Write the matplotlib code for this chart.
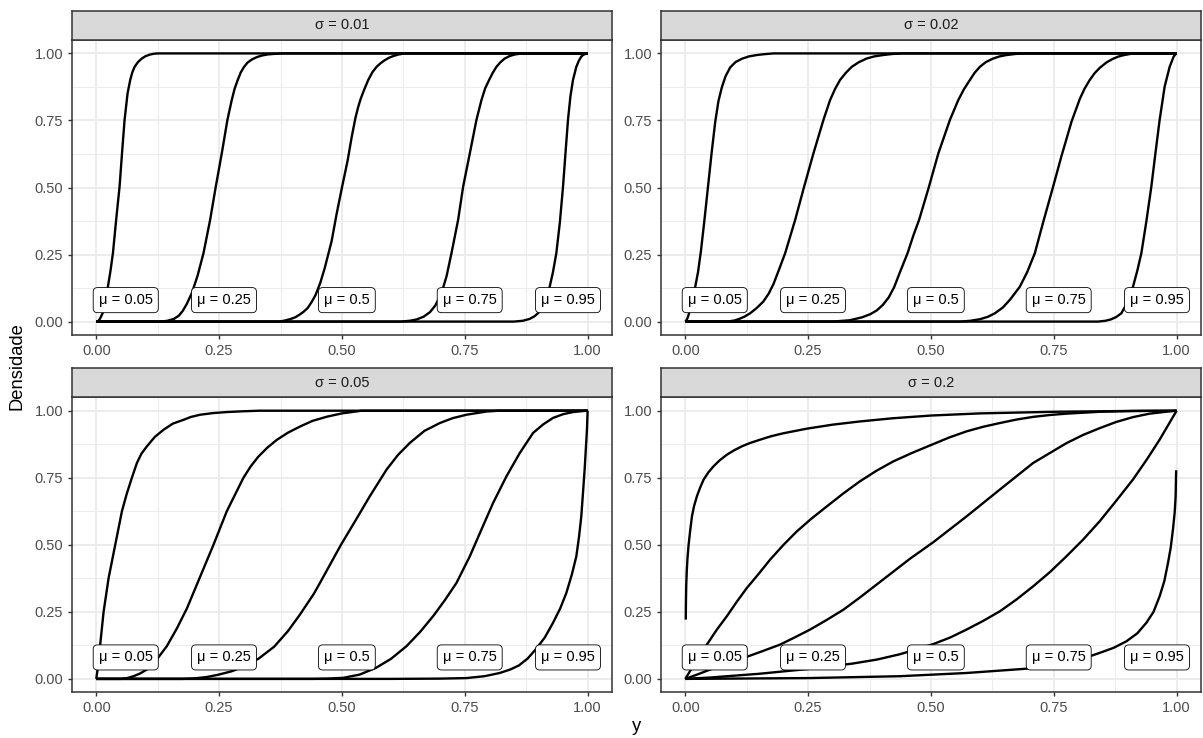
import matplotlib
matplotlib.use("Agg")
import matplotlib.pyplot as plt

plt.rcParams['font.family'] = ['Liberation Sans', 'DejaVu Sans']

# ---------------------------------------------------------------- data
sigma_labels = ["0.01", "0.02", "0.05", "0.2"]
mu_labels = ["0.05", "0.25", "0.5", "0.75", "0.95"]
mu_values = [0.05, 0.25, 0.5, 0.75, 0.95]

# sigma = 0.01
s001_m005_x = [0, 0.003, 0.006, 0.009, 0.0129, 0.017, 0.0205, 0.0237, 0.029, 0.0339, 0.0405, 0.0474, 0.0525, 0.0576,
               0.0637, 0.0691, 0.0735, 0.078, 0.085, 0.0928, 0.1005, 0.1098, 0.118, 0.127, 1.0]
s001_m005_y = [0, 0.001, 0.006, 0.016, 0.031, 0.06, 0.095, 0.13, 0.19, 0.255, 0.38, 0.503, 0.63, 0.752,
               0.851, 0.901, 0.93, 0.95, 0.968, 0.981, 0.99, 0.996, 0.999, 1.0, 1.0]
s001_m025_x = [0, 0.13, 0.145, 0.158, 0.168, 0.176, 0.184, 0.1944, 0.206, 0.2182, 0.2317, 0.2432, 0.2554, 0.2669,
               0.272, 0.2757, 0.2815, 0.2879, 0.294, 0.3008, 0.308, 0.3164, 0.3265, 0.3367, 0.348, 0.3604, 0.381, 1.0]
s001_m025_y = [0, 0.0, 0.003, 0.01, 0.022, 0.04, 0.065, 0.106, 0.17, 0.255, 0.379, 0.503, 0.627, 0.752,
               0.795, 0.826, 0.868, 0.901, 0.929, 0.95, 0.966, 0.977, 0.986, 0.992, 0.996, 0.998, 1.0, 1.0]
s001_m050_x = [0, 0.372, 0.384, 0.396, 0.405, 0.413, 0.4215, 0.43, 0.438, 0.4465, 0.456, 0.465, 0.479, 0.489, 0.5,
               0.5115, 0.52, 0.5275, 0.533, 0.538, 0.5455, 0.5535, 0.562, 0.5705, 0.579, 0.5874, 0.596, 0.6043,
               0.615, 0.628, 1.0]
s001_m050_y = [0, 0.0, 0.004, 0.01, 0.016, 0.025, 0.036, 0.05, 0.072, 0.1, 0.145, 0.2, 0.3, 0.4, 0.5,
               0.6, 0.69, 0.76, 0.8, 0.83, 0.866, 0.901, 0.93, 0.95, 0.964, 0.975, 0.984, 0.99,
               0.996, 1.0, 1.0]
s001_m075_x = [0, 0.62, 0.638, 0.652, 0.666, 0.679, 0.69, 0.7026, 0.713, 0.7229, 0.7364, 0.7466, 0.7602, 0.7737,
               0.7839, 0.7915, 0.7995, 0.807, 0.8144, 0.8225, 0.8313, 0.841, 0.8516, 0.863, 0.8753, 1.0]
s001_m075_y = [0, 0.0, 0.003, 0.008, 0.018, 0.035, 0.06, 0.106, 0.17, 0.255, 0.379, 0.503, 0.627, 0.752,
               0.826, 0.87, 0.901, 0.928, 0.95, 0.967, 0.981, 0.99, 0.996, 0.999, 1.0, 1.0]
s001_m095_x = [0, 0.85, 0.868, 0.882, 0.892, 0.899, 0.906, 0.914, 0.9228, 0.9295, 0.9363, 0.9435, 0.9499, 0.955,
               0.96, 0.965, 0.9702, 0.977, 0.982, 0.987, 0.9905, 0.994, 0.997, 1.0]
s001_m095_y = [0, 0.0, 0.003, 0.01, 0.02, 0.031, 0.048, 0.08, 0.13, 0.185, 0.255, 0.37, 0.503, 0.63,
               0.752, 0.84, 0.901, 0.95, 0.972, 0.988, 0.994, 0.997, 0.999, 1.0]

# sigma = 0.02
s002_m005_x = [0, 0.0025, 0.005, 0.01, 0.015, 0.0203, 0.026, 0.0318, 0.0385, 0.0461, 0.0535, 0.061, 0.0675, 0.0745,
               0.082, 0.0915, 0.1025, 0.1152, 0.13, 0.1457, 0.16, 0.1795, 1.0]
s002_m005_y = [0, 0.005, 0.015, 0.045, 0.085, 0.13, 0.185, 0.262, 0.37, 0.5, 0.627, 0.745, 0.822, 0.874,
               0.915, 0.948, 0.968, 0.98, 0.989, 0.994, 0.997, 1.0, 1.0]
s002_m025_x = [0, 0.085, 0.1, 0.11, 0.121, 0.132, 0.145, 0.159, 0.17, 0.1795, 0.19, 0.2033, 0.2236, 0.2419, 0.2608,
               0.2812, 0.2947, 0.305, 0.315, 0.327, 0.3388, 0.353, 0.3692, 0.385, 0.4031, 0.422, 0.4438, 1.0]
s002_m025_y = [0, 0.0, 0.004, 0.01, 0.019, 0.031, 0.05, 0.075, 0.105, 0.14, 0.19, 0.255, 0.379, 0.503, 0.627,
               0.752, 0.826, 0.868, 0.901, 0.928, 0.95, 0.967, 0.981, 0.989, 0.994, 0.998, 1.0, 1.0]
s002_m050_x = [0, 0.30, 0.335, 0.36, 0.377, 0.39, 0.402, 0.414, 0.425, 0.436, 0.4524, 0.464, 0.476, 0.4955, 0.515,
               0.5386, 0.5556, 0.567, 0.5793, 0.589, 0.5996, 0.612, 0.6267, 0.64, 0.6538, 0.672, 0.6945, 1.0]
s002_m050_y = [0, 0.0, 0.005, 0.016, 0.028, 0.042, 0.062, 0.09, 0.128, 0.18, 0.255, 0.32, 0.38, 0.5, 0.627,
               0.752, 0.826, 0.866, 0.901, 0.928, 0.95, 0.968, 0.981, 0.989, 0.994, 0.998, 1.0, 1.0]
s002_m075_x = [0, 0.559, 0.58, 0.6, 0.616, 0.6301, 0.646, 0.6606, 0.6809, 0.696, 0.7114, 0.7283, 0.7486, 0.7656,
               0.786, 0.8029, 0.8125, 0.8232, 0.833, 0.8435, 0.857, 0.8706, 0.881, 0.891, 0.9112, 1.0]
s002_m075_y = [0, 0.0, 0.003, 0.009, 0.018, 0.031, 0.052, 0.081, 0.13, 0.185, 0.255, 0.37, 0.503, 0.617,
               0.745, 0.83, 0.868, 0.901, 0.926, 0.946, 0.966, 0.98, 0.988, 0.993, 1.0, 1.0]
s002_m095_x = [0, 0.84, 0.855, 0.866, 0.877, 0.8875, 0.8995, 0.9112, 0.92, 0.9282, 0.9385, 0.9485, 0.957, 0.9654,
               0.9756, 0.9858, 0.9939, 0.998, 1.0]
s002_m095_y = [0, 0.0, 0.003, 0.008, 0.017, 0.031, 0.07, 0.13, 0.19, 0.255, 0.375, 0.503, 0.63, 0.752,
               0.876, 0.95, 0.988, 0.998, 1.0]

# sigma = 0.05
s005_m005_x = [0, 0.003, 0.008, 0.0149, 0.0251, 0.0386, 0.0522, 0.062, 0.0725, 0.0827, 0.092, 0.103, 0.119, 0.1369,
               0.156, 0.1775, 0.193, 0.2114, 0.237, 0.2656, 0.3, 0.333, 1.0]
s005_m005_y = [0, 0.04, 0.128, 0.25, 0.376, 0.5, 0.625, 0.69, 0.75, 0.805, 0.84, 0.867, 0.902, 0.929,
               0.952, 0.966, 0.977, 0.985, 0.991, 0.995, 0.998, 1.0, 1.0]
s005_m025_x = [0, 0.05, 0.063, 0.0759, 0.089, 0.103, 0.123, 0.1436, 0.164, 0.1843, 0.2114, 0.2385, 0.2656, 0.2995,
               0.3145, 0.33, 0.348, 0.3672, 0.39, 0.4146, 0.44, 0.47, 0.5, 0.54, 1.0]
s005_m025_y = [0, 0.0, 0.003, 0.01, 0.02, 0.035, 0.072, 0.122, 0.188, 0.262, 0.381, 0.5, 0.625, 0.75,
               0.793, 0.829, 0.862, 0.891, 0.918, 0.941, 0.962, 0.978, 0.99, 1.0, 1.0]
s005_m050_x = [0, 0.175, 0.2, 0.225, 0.247, 0.275, 0.301, 0.33, 0.362, 0.39, 0.4146, 0.443, 0.4553, 0.498, 0.528,
               0.557, 0.591, 0.614, 0.6382, 0.668, 0.6992, 0.725, 0.7534, 0.794, 0.82, 1.0]
s005_m050_y = [0, 0.0, 0.002, 0.007, 0.015, 0.028, 0.046, 0.075, 0.12, 0.178, 0.24, 0.318, 0.358, 0.5, 0.592,
               0.682, 0.781, 0.835, 0.88, 0.925, 0.954, 0.972, 0.985, 0.997, 1.0, 1.0]
s005_m075_x = [0, 0.44, 0.47, 0.5027, 0.536, 0.5691, 0.6, 0.6314, 0.659, 0.6856, 0.71, 0.7331, 0.7602, 0.7839,
               0.8076, 0.8347, 0.8618, 0.8889, 0.9095, 0.9295, 0.95, 0.9702, 0.9973, 1.0]
s005_m075_y = [0, 0.0, 0.001, 0.004, 0.016, 0.041, 0.075, 0.122, 0.175, 0.234, 0.295, 0.358, 0.457, 0.557,
               0.656, 0.755, 0.842, 0.917, 0.949, 0.973, 0.987, 0.995, 1.0, 1.0]
s005_m095_x = [0, 0.6, 0.7, 0.753, 0.79, 0.8211, 0.8425, 0.86, 0.878, 0.8943, 0.913, 0.9295, 0.944, 0.9566, 0.968,
               0.977, 0.9825, 0.9871, 0.9939, 0.9986, 1.0]
s005_m095_y = [0, 0.0, 0.001, 0.003, 0.01, 0.022, 0.035, 0.05, 0.076, 0.11, 0.155, 0.209, 0.262, 0.32, 0.39,
               0.457, 0.53, 0.606, 0.78, 0.929, 1.0]

# sigma = 0.2
s02_m005_x = [0.001, 0.0012, 0.0015, 0.002, 0.003, 0.0045, 0.0068, 0.0098, 0.0136, 0.018, 0.0237, 0.03, 0.0373,
              0.047, 0.0576, 0.07, 0.0847, 0.1, 0.115, 0.1324, 0.1524, 0.175, 0.2, 0.2473, 0.3, 0.3557, 0.4234,
              0.5, 0.6, 0.75, 0.9, 1.0]
s02_m005_y = [0.221, 0.26, 0.3, 0.35, 0.4, 0.45, 0.5, 0.55, 0.606, 0.645, 0.681, 0.712, 0.743,
              0.77, 0.793, 0.815, 0.836, 0.853, 0.867, 0.88, 0.892, 0.905, 0.916, 0.933, 0.948, 0.96, 0.972,
              0.982, 0.99, 0.996, 0.999, 1.0]
s02_m025_x = [0, 0.01, 0.02, 0.03, 0.044, 0.064, 0.0847, 0.105, 0.1253, 0.15, 0.1728, 0.2, 0.227, 0.257, 0.288,
              0.322, 0.3557, 0.389, 0.4234, 0.462, 0.5014, 0.537, 0.5725, 0.606, 0.6402, 0.674, 0.7079, 0.742,
              0.7757, 0.8435, 0.911, 1.0]
s02_m025_y = [0, 0.03, 0.06, 0.09, 0.128, 0.183, 0.234, 0.288, 0.339, 0.393, 0.445, 0.5, 0.55, 0.598, 0.643,
              0.692, 0.737, 0.776, 0.811, 0.843, 0.873, 0.9, 0.923, 0.94, 0.954, 0.967, 0.977, 0.984,
              0.989, 0.996, 0.999, 1.0]
s02_m050_x = [0, 0.0254, 0.0508, 0.085, 0.1186, 0.155, 0.1931, 0.222, 0.2541, 0.288, 0.3218, 0.355, 0.3896, 0.4573,
              0.505, 0.5725, 0.6402, 0.7079, 0.7757, 0.81, 0.8435, 0.877, 0.911, 0.945, 0.9783, 1.0]
s02_m050_y = [0, 0.017, 0.035, 0.056, 0.078, 0.102, 0.128, 0.154, 0.184, 0.22, 0.258, 0.303, 0.352, 0.448,
              0.51, 0.606, 0.706, 0.805, 0.879, 0.91, 0.935, 0.958, 0.976, 0.989, 0.996, 1.0]
s02_m075_x = [0, 0.05, 0.1, 0.15, 0.2, 0.245, 0.288, 0.34, 0.39, 0.437, 0.47, 0.505, 0.54, 0.5725, 0.606, 0.6402,
              0.674, 0.7079, 0.742, 0.7757, 0.81, 0.8435, 0.877, 0.911, 0.94, 0.9654, 1.0]
s02_m075_y = [0, 0.005, 0.012, 0.019, 0.028, 0.036, 0.045, 0.057, 0.072, 0.092, 0.11, 0.13, 0.155, 0.184, 0.216,
              0.252, 0.296, 0.345, 0.398, 0.457, 0.52, 0.588, 0.664, 0.743, 0.82, 0.892, 1.0]
s02_m095_x = [0, 0.25, 0.437, 0.5725, 0.6944, 0.74, 0.7757, 0.81, 0.8435, 0.872, 0.8977, 0.92, 0.9383, 0.953,
              0.9654, 0.975, 0.9824, 0.988, 0.9925, 0.996, 0.998, 0.999]
s02_m095_y = [0, 0.003, 0.01, 0.022, 0.038, 0.048, 0.06, 0.076, 0.097, 0.116, 0.14, 0.17, 0.209, 0.25,
              0.308, 0.365, 0.432, 0.49, 0.557, 0.62, 0.681, 0.778]

panels = [
    [(s001_m005_x, s001_m005_y), (s001_m025_x, s001_m025_y), (s001_m050_x, s001_m050_y),
     (s001_m075_x, s001_m075_y), (s001_m095_x, s001_m095_y)],
    [(s002_m005_x, s002_m005_y), (s002_m025_x, s002_m025_y), (s002_m050_x, s002_m050_y),
     (s002_m075_x, s002_m075_y), (s002_m095_x, s002_m095_y)],
    [(s005_m005_x, s005_m005_y), (s005_m025_x, s005_m025_y), (s005_m050_x, s005_m050_y),
     (s005_m075_x, s005_m075_y), (s005_m095_x, s005_m095_y)],
    [(s02_m005_x, s02_m005_y), (s02_m025_x, s02_m025_y), (s02_m050_x, s02_m050_y),
     (s02_m075_x, s02_m075_y), (s02_m095_x, s02_m095_y)],
]

tick_values = [0.0, 0.25, 0.5, 0.75, 1.0]
minor_values = [0.125, 0.375, 0.625, 0.875]

# ---------------------------------------------------------------- layout (pixels)
W, H = 1203, 738
fig = plt.figure(figsize=(W / 100, H / 100), dpi=100)


def rect(left, top, width, height):
    return [left / W, 1 - (top + height) / H, width / W, height / H]


col_left = [71.7, 660.7]
panel_w = 540.5
row_top = [40.0, 397.3]
panel_h = 295.0
strip_h = 29.5

border_col = "#333333"
grid_col = "#EBEBEB"

for k, curves in enumerate(panels):
    r, c = divmod(k, 2)
    ax = fig.add_axes(rect(col_left[c], row_top[r], panel_w, panel_h))
    ax.set_xlim(-0.05, 1.05)
    ax.set_ylim(-0.05, 1.05)
    ax.set_xticks(tick_values)
    ax.set_yticks(tick_values)
    ax.set_xticks(minor_values, minor=True)
    ax.set_yticks(minor_values, minor=True)
    ax.set_xticklabels([f"{v:.2f}" for v in tick_values])
    ax.set_yticklabels([f"{v:.2f}" for v in tick_values])
    ax.grid(which="major", color=grid_col, lw=1.3)
    ax.grid(which="minor", color=grid_col, lw=0.65)
    ax.set_axisbelow(True)
    ax.tick_params(which="major", length=3.0, width=1.0, color=border_col,
                   labelsize=10.5, labelcolor="#4D4D4D", pad=3.2)
    ax.tick_params(which="minor", length=0)
    for sp in ax.spines.values():
        sp.set_color(border_col)
        sp.set_linewidth(1.1)
        sp.set_zorder(6)

    for (xs, ys) in curves:
        ax.plot(xs, ys, color="black", lw=1.7, solid_joinstyle="round",
                solid_capstyle="butt", zorder=3)

    for mu, lab in zip(mu_values, mu_labels):
        ax.text(mu + 0.01, 0.08, f"μ = {lab}", ha="center", va="center",
                fontsize=10.5, color="black", zorder=5,
                bbox=dict(boxstyle="round,pad=0.38,rounding_size=0.3",
                          fc="white", ec="black", lw=0.6))

    # facet strip
    sax = fig.add_axes(rect(col_left[c], row_top[r] - strip_h, panel_w, strip_h))
    sax.set_facecolor("#D9D9D9")
    sax.set_xticks([])
    sax.set_yticks([])
    for sp in sax.spines.values():
        sp.set_color(border_col)
        sp.set_linewidth(1.1)
    sax.text(0.5, 0.5, f"σ = {sigma_labels[k]}", ha="center", va="center",
             fontsize=10.5, color="#1A1A1A", transform=sax.transAxes)

fig.text(17.5 / W, 1 - 366 / H, "Densidade", rotation=90, ha="center",
         va="center", fontsize=13.2, color="black")
fig.text(636.7 / W, 1 - 731 / H, "y", ha="center", va="baseline",
         fontsize=13.2, color="black")

fig.savefig("out.png", dpi=100, facecolor="white")
